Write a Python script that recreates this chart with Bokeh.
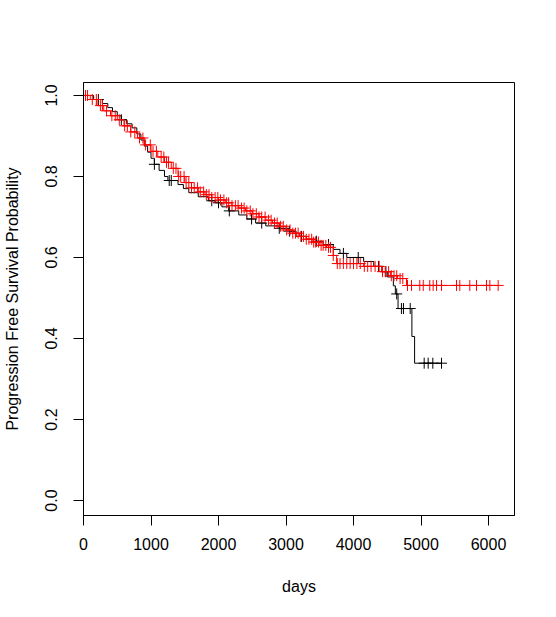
import numpy as np
from bokeh.plotting import figure
from bokeh.models import Range1d, FixedTicker
from bokeh.embed import file_html
from bokeh.resources import INLINE

# Group 1 (black) Kaplan-Meier steps
black_times = [0, 150, 280, 360, 430, 500, 560, 640, 720, 790, 850, 900, 950, 1000, 1050, 1120,
               1200, 1250, 1400, 1480, 1560, 1700, 1850, 1950, 2050, 2150, 2300, 2420, 2550,
               2700, 2900, 3050, 3150, 3300, 3450, 3550, 3700, 3800, 3900, 4150, 4300, 4420,
               4500, 4590, 4620, 4660, 4865, 4905]
black_surv = [1.0, 0.990, 0.980, 0.970, 0.960, 0.950, 0.940, 0.930, 0.920, 0.905, 0.890, 0.875,
              0.860, 0.845, 0.830, 0.815, 0.800, 0.790, 0.780, 0.770, 0.760, 0.750, 0.740, 0.735,
              0.725, 0.715, 0.705, 0.695, 0.685, 0.678, 0.672, 0.665, 0.652, 0.645, 0.640, 0.632,
              0.620, 0.610, 0.600, 0.590, 0.578, 0.565, 0.552, 0.530, 0.510, 0.474, 0.405, 0.339]
black_censor = [220, 560, 1050, 1270, 1300, 1900, 2000, 2160, 2490, 2640, 2900, 3050, 3230, 3450,
                3630, 3850, 4070, 4370, 4480, 4640, 4710, 4740, 4840, 5047, 5106, 5175, 5304]

# Group 2 (red) Kaplan-Meier steps
red_times = [0, 100, 200, 300, 400, 500, 600, 700, 800, 900, 1000, 1100, 1200, 1300, 1400, 1500,
             1600, 1700, 1800, 1900, 2000, 2100, 2200, 2300, 2400, 2500, 2600, 2700, 2800, 2900,
             3000, 3100, 3200, 3300, 3400, 3500, 3600, 3700, 3750, 4150, 4420, 4550, 4650, 4785]
red_surv = [1.0, 0.990, 0.975, 0.962, 0.950, 0.940, 0.925, 0.910, 0.895, 0.878, 0.862, 0.848,
            0.835, 0.820, 0.800, 0.785, 0.772, 0.762, 0.755, 0.748, 0.742, 0.735, 0.728, 0.722,
            0.715, 0.708, 0.700, 0.692, 0.685, 0.677, 0.668, 0.660, 0.652, 0.645, 0.638, 0.630,
            0.625, 0.605, 0.585, 0.578, 0.565, 0.555, 0.548, 0.531]
red_censor = [30, 60, 130, 190, 250, 280, 340, 420, 470, 530, 610, 650, 700, 760, 830, 880, 920,
              990, 1030, 1080, 1150, 1190, 1230, 1260, 1330, 1370, 1410, 1440, 1490, 1520, 1560,
              1600, 1640, 1690, 1730, 1780, 1820, 1860, 1900, 1950, 1990, 2030, 2080, 2120, 2150,
              2200, 2250, 2290, 2340, 2380, 2420, 2470, 2510, 2560, 2600, 2640, 2690, 2740, 2780,
              2830, 2870, 2920, 2960, 3010, 3060, 3100, 3140, 3180, 3220, 3260, 3300, 3340, 3380,
              3410, 3440, 3480, 3520, 3550, 3590, 3630, 3660, 3700, 3760, 3800, 3850, 3900, 3950,
              4000, 4050, 4100, 4160, 4210, 4260, 4320, 4380, 4430, 4470, 4520, 4560, 4600, 4640,
              4690, 4730, 4800, 4859, 4982, 5033, 5130, 5180, 5230, 5304, 5526, 5575, 5723, 5822,
              5970, 6020, 6143]

x_ticks = [0, 1000, 2000, 3000, 4000, 5000, 6000]
y_ticks = [0.0, 0.2, 0.4, 0.6, 0.8, 1.0]
y_tick_labels = ["0.0", "0.2", "0.4", "0.6", "0.8", "1.0"]

FONT = "Liberation Sans"


def surv_at(times, surv, t):
    idx = np.searchsorted(np.asarray(times), np.asarray(t), side="right") - 1
    return np.asarray(surv)[idx]


p = figure(frame_width=431, frame_height=433, output_backend="svg", toolbar_location=None,
           x_range=Range1d(0, 6385), y_range=Range1d(-0.037, 1.032),
           min_border_left=82, min_border_top=82, min_border_right=35, min_border_bottom=94)

p.grid.visible = False
p.outline_line_color = "black"
p.outline_line_width = 1
p.background_fill_color = "white"
p.border_fill_color = "white"

for ax in (p.xaxis[0], p.yaxis[0]):
    ax.axis_line_color = "black"
    ax.major_tick_line_color = "black"
    ax.major_tick_out = 10
    ax.major_tick_in = 0
    ax.minor_tick_line_color = None
    ax.major_label_text_font = FONT
    ax.major_label_text_font_size = "16px"
    ax.major_label_text_color = "black"
    ax.axis_label_text_font = FONT
    ax.axis_label_text_font_size = "16px"
    ax.axis_label_text_font_style = "normal"
    ax.axis_label_text_color = "black"

p.xaxis.ticker = FixedTicker(ticks=x_ticks)
p.yaxis.ticker = FixedTicker(ticks=y_ticks)
p.yaxis.major_label_overrides = {t: l for t, l in zip(y_ticks, y_tick_labels)}
p.yaxis.major_label_orientation = "vertical"
p.xaxis.axis_label = "days"
p.yaxis.axis_label = "Progression Free Survival Probability"
p.xaxis.major_label_standoff = 12
p.xaxis.axis_label_standoff = 25
p.yaxis.major_label_standoff = 16
p.yaxis.axis_label_standoff = 22

# black curve
bx = list(black_times) + [black_censor[-1]]
by = list(black_surv) + [black_surv[-1]]
p.step(bx, by, mode="after", line_color="black", line_width=1)
p.scatter(black_censor, surv_at(black_times, black_surv, black_censor), marker="cross",
          size=11, line_color="black", line_width=1)

# red curve
rx = list(red_times) + [red_censor[-1]]
ry = list(red_surv) + [red_surv[-1]]
p.step(rx, ry, mode="after", line_color="#FF0000", line_width=1)
p.scatter(red_censor, surv_at(red_times, red_surv, red_censor), marker="cross",
          size=11, line_color="#FF0000", line_width=1)

open("out.html", "w").write(file_html(p, INLINE))
